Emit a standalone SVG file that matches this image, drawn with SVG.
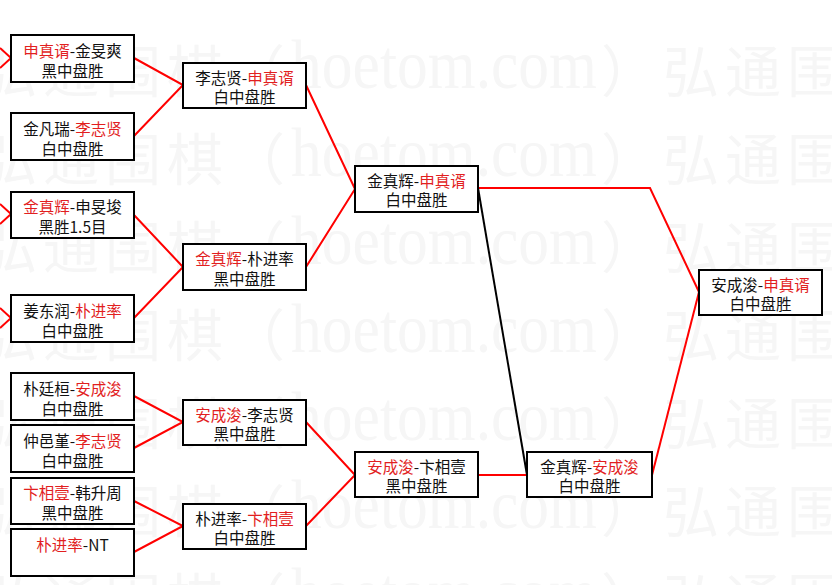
<svg xmlns="http://www.w3.org/2000/svg" xmlns:xlink="http://www.w3.org/1999/xlink" width="832" height="585" viewBox="0 0 832 585">
<style>
.wm{fill:#f6f6f6;font-family:"Noto Sans CJK SC",sans-serif;font-size:56px;letter-spacing:6px}
.wml{fill:#f6f6f6;font-family:"Liberation Serif",serif;font-size:70px}
.box{fill:#fff;stroke:#000;stroke-width:2}
.t{font-family:"Noto Sans CJK SC",sans-serif;font-size:15.5px;fill:#111;text-anchor:middle}
.r{fill:#e21f1f}
.cr{fill:none;stroke:#f00;stroke-width:2}
.ck{fill:none;stroke:#000;stroke-width:2}
</style>
<defs>
<g id="wmrow">
<text class="wm" x="-19" y="0">弘通围棋（</text>
<text class="wml" x="291" y="-4" textLength="306" lengthAdjust="spacingAndGlyphs">hoetom.com</text>
<text class="wm" x="601" y="0">）弘通围棋</text>
</g>
</defs>
<rect width="832" height="585" fill="#fff"/>
<g id="watermark">
<use xlink:href="#wmrow" y="92"/>
<use xlink:href="#wmrow" y="180"/>
<use xlink:href="#wmrow" y="268"/>
<use xlink:href="#wmrow" y="356"/>
<use xlink:href="#wmrow" y="444"/>
<use xlink:href="#wmrow" y="532"/>
<use xlink:href="#wmrow" y="620"/>
</g>
<g id="connectors">
<polyline class="cr" points="0,48 11,58 0,68"/>
<polyline class="cr" points="0,204 11,214 0,224"/>
<polyline class="cr" points="0,308 11,318 0,328"/>
<polyline class="cr" points="134,58 183,85 134,136"/>
<polyline class="cr" points="134,215 183,267 134,318"/>
<polyline class="cr" points="134,396 183,422 134,448"/>
<polyline class="cr" points="134,501 183,526 134,552"/>
<polyline class="cr" points="306,85 355,189 306,267"/>
<polyline class="cr" points="306,422 355,475 306,526"/>
<polyline class="cr" points="478,188 650,188 699,292"/>
<line class="ck" x1="478" y1="188" x2="527" y2="475"/>
<line class="cr" x1="478" y1="475" x2="527" y2="475"/>
<line class="cr" x1="652" y1="475" x2="699" y2="292"/>
</g>
<g id="n1"><rect class="box" x="11" y="35" width="123" height="47"/><text class="t" x="72.5" y="57"><tspan class="r">申真谞</tspan>-金旻爽</text><text class="t" x="72.5" y="77">黑中盘胜</text></g>
<g id="n2"><rect class="box" x="11" y="113" width="123" height="47"/><text class="t" x="72.5" y="135">金凡瑞-<tspan class="r">李志贤</tspan></text><text class="t" x="72.5" y="155">白中盘胜</text></g>
<g id="n3"><rect class="box" x="11" y="192" width="123" height="46"/><text class="t" x="72.5" y="213"><tspan class="r">金真辉</tspan>-申旻埈</text><text class="t" x="72.5" y="233">黑胜1.5目</text></g>
<g id="n4"><rect class="box" x="11" y="295" width="123" height="47"/><text class="t" x="72.5" y="317">姜东润-<tspan class="r">朴进率</tspan></text><text class="t" x="72.5" y="337">白中盘胜</text></g>
<g id="n5"><rect class="box" x="11" y="373" width="123" height="47"/><text class="t" x="72.5" y="395">朴廷桓-<tspan class="r">安成浚</tspan></text><text class="t" x="72.5" y="415">白中盘胜</text></g>
<g id="n6"><rect class="box" x="11" y="425" width="123" height="47"/><text class="t" x="72.5" y="447">仲邑堇-<tspan class="r">李志贤</tspan></text><text class="t" x="72.5" y="467">白中盘胜</text></g>
<g id="n7"><rect class="box" x="11" y="478" width="123" height="46"/><text class="t" x="72.5" y="499"><tspan class="r">卞相壹</tspan>-韩升周</text><text class="t" x="72.5" y="519">黑中盘胜</text></g>
<g id="n8"><rect class="box" x="11" y="529" width="123" height="47"/><text class="t" x="72.5" y="551"><tspan class="r">朴进率</tspan>-NT</text></g>
<g id="n9"><rect class="box" x="183" y="63" width="123" height="45"/><text class="t" x="244.5" y="84">李志贤-<tspan class="r">申真谞</tspan></text><text class="t" x="244.5" y="103">白中盘胜</text></g>
<g id="n10"><rect class="box" x="183" y="244" width="123" height="46"/><text class="t" x="244.5" y="265"><tspan class="r">金真辉</tspan>-朴进率</text><text class="t" x="244.5" y="285">黑中盘胜</text></g>
<g id="n11"><rect class="box" x="183" y="400" width="123" height="45"/><text class="t" x="244.5" y="421"><tspan class="r">安成浚</tspan>-李志贤</text><text class="t" x="244.5" y="440">黑中盘胜</text></g>
<g id="n12"><rect class="box" x="183" y="504" width="123" height="45"/><text class="t" x="244.5" y="525">朴进率-<tspan class="r">卞相壹</tspan></text><text class="t" x="244.5" y="544">白中盘胜</text></g>
<g id="n13"><rect class="box" x="355" y="166" width="123" height="46"/><text class="t" x="416.5" y="187">金真辉-<tspan class="r">申真谞</tspan></text><text class="t" x="416.5" y="206">白中盘胜</text></g>
<g id="n14"><rect class="box" x="355" y="452" width="123" height="45"/><text class="t" x="416.5" y="473"><tspan class="r">安成浚</tspan>-卞相壹</text><text class="t" x="416.5" y="492">黑中盘胜</text></g>
<g id="n15"><rect class="box" x="527" y="452" width="125" height="45"/><text class="t" x="589.5" y="473">金真辉-<tspan class="r">安成浚</tspan></text><text class="t" x="589.5" y="492">白中盘胜</text></g>
<g id="n16"><rect class="box" x="699" y="270" width="123" height="45"/><text class="t" x="760.5" y="291">安成浚-<tspan class="r">申真谞</tspan></text><text class="t" x="760.5" y="310">白中盘胜</text></g>
</svg>
